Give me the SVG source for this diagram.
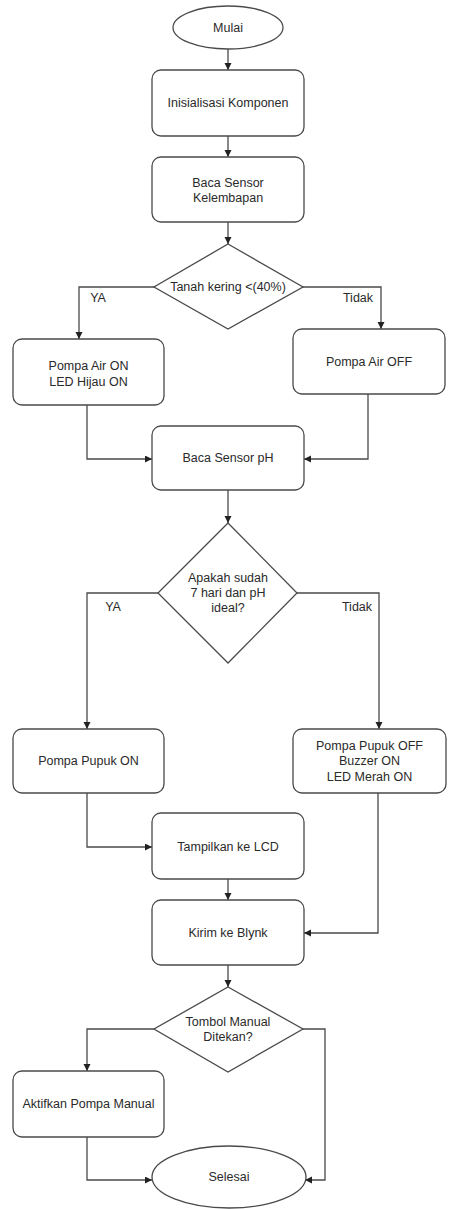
<svg xmlns="http://www.w3.org/2000/svg" width="456" height="1209" viewBox="0 0 456 1209">
<style>
.n{fill:#fff;stroke:#4a4a4a;stroke-width:1.3}
.t{font-family:"Liberation Sans",Arial,sans-serif;font-size:12.5px;fill:#2a2a2a;text-anchor:middle}
.c{fill:none;stroke:#4a4a4a;stroke-width:1.3}
</style>
<defs>
<marker id="a" markerUnits="userSpaceOnUse" markerWidth="8" markerHeight="8" refX="7" refY="3.5" orient="auto">
<path d="M0,0 L7,3.5 L0,7 z" fill="#222"/>
</marker>
</defs>
<rect width="456" height="1209" fill="#fff"/>
<g id="connectors">
<path class="c" d="M228,49 V70" marker-end="url(#a)"/>
<path class="c" d="M228,136 V157" marker-end="url(#a)"/>
<path class="c" d="M228,222 V244" marker-end="url(#a)"/>
<path class="c" d="M154,287 H79 V339" marker-end="url(#a)"/>
<path class="c" d="M303,287 H381 V329" marker-end="url(#a)"/>
<path class="c" d="M87,405 V459 H152" marker-end="url(#a)"/>
<path class="c" d="M368,394 V459 H304" marker-end="url(#a)"/>
<path class="c" d="M228,490 V523" marker-end="url(#a)"/>
<path class="c" d="M158,593 H87 V729" marker-end="url(#a)"/>
<path class="c" d="M297,593 H379 V729" marker-end="url(#a)"/>
<path class="c" d="M87,793 V847 H152" marker-end="url(#a)"/>
<path class="c" d="M228,879 V900" marker-end="url(#a)"/>
<path class="c" d="M378,793 V933 H304" marker-end="url(#a)"/>
<path class="c" d="M228,965 V987" marker-end="url(#a)"/>
<path class="c" d="M154,1029 H87 V1071" marker-end="url(#a)"/>
<path class="c" d="M87,1137 V1180 H152" marker-end="url(#a)"/>
<path class="c" d="M303,1029 H325 V1180 H305" marker-end="url(#a)"/>
<text class="t" x="98" y="302">YA</text>
<text class="t" x="358" y="302">Tidak</text>
<text class="t" x="113" y="611">YA</text>
<text class="t" x="357" y="611">Tidak</text>
</g>
<g id="mulai"><ellipse class="n" cx="228" cy="27.5" rx="55" ry="21.5"/><text class="t" x="228" y="31.5">Mulai</text></g>
<g id="inisialisasi"><rect class="n" x="152" y="70" width="152" height="66" rx="9"/><text class="t" x="228" y="107">Inisialisasi Komponen</text></g>
<g id="baca-kelembapan"><rect class="n" x="152" y="157" width="152" height="65" rx="9"/><text class="t" x="228" y="187">Baca Sensor</text><text class="t" x="228" y="202">Kelembapan</text></g>
<g id="tanah-kering"><polygon class="n" points="228,244 303,287 228,329 154,287"/><text class="t" x="228" y="291">Tanah kering &lt;(40%)</text></g>
<g id="pompa-air-on"><rect class="n" x="13" y="339" width="151" height="66" rx="9"/><text class="t" x="88.5" y="370">Pompa Air ON</text><text class="t" x="88.5" y="386">LED Hijau ON</text></g>
<g id="pompa-air-off"><rect class="n" x="293" y="329" width="152" height="65" rx="9"/><text class="t" x="369" y="365.5">Pompa Air OFF</text></g>
<g id="baca-ph"><rect class="n" x="152" y="426" width="152" height="64" rx="9"/><text class="t" x="228" y="462">Baca Sensor pH</text></g>
<g id="cek-ph"><polygon class="n" points="228,523 297,593 228,663 158,593"/><text class="t" x="228" y="582">Apakah sudah</text><text class="t" x="228" y="597">7 hari dan pH</text><text class="t" x="228" y="612">ideal?</text></g>
<g id="pompa-pupuk-on"><rect class="n" x="13" y="729" width="151" height="64" rx="9"/><text class="t" x="88.5" y="765">Pompa Pupuk ON</text></g>
<g id="pompa-pupuk-off"><rect class="n" x="293" y="729" width="153" height="64" rx="9"/><text class="t" x="369.5" y="750">Pompa Pupuk OFF</text><text class="t" x="369.5" y="765">Buzzer ON</text><text class="t" x="369.5" y="781">LED Merah ON</text></g>
<g id="lcd"><rect class="n" x="152" y="813" width="152" height="66" rx="9"/><text class="t" x="228" y="851">Tampilkan ke LCD</text></g>
<g id="blynk"><rect class="n" x="152" y="900" width="152" height="65" rx="9"/><text class="t" x="228" y="937">Kirim ke Blynk</text></g>
<g id="tombol-manual"><polygon class="n" points="228,987 303,1029 228,1072 154,1029"/><text class="t" x="228" y="1026">Tombol Manual</text><text class="t" x="228" y="1041">Ditekan?</text></g>
<g id="aktifkan"><rect class="n" x="13" y="1071" width="151" height="66" rx="9"/><text class="t" x="88.5" y="1108">Aktifkan Pompa Manual</text></g>
<g id="selesai"><ellipse class="n" cx="229" cy="1177" rx="77" ry="31"/><text class="t" x="229" y="1181">Selesai</text></g>
</svg>
